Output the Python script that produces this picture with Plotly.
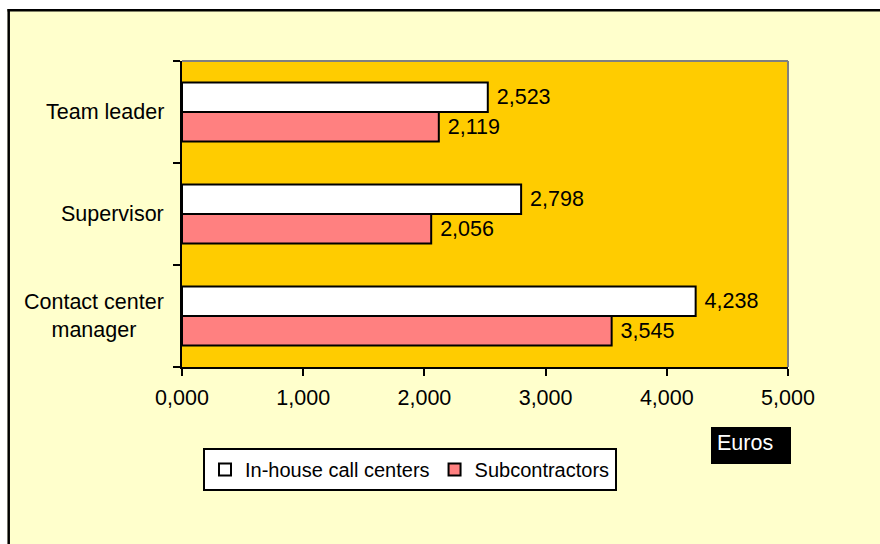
import plotly.graph_objects as go

# Monthly salary by position, in euros
positions = ["Contact center manager", "Supervisor", "Team leader"]
position_labels = ["Contact center<br>manager", "Supervisor", "Team leader"]
in_house = [4238, 2798, 2523]
subcontractors = [3545, 2056, 2119]
x_tick_values = [0, 1000, 2000, 3000, 4000, 5000]
x_tick_labels = ["0,000", "1,000", "2,000", "3,000", "4,000", "5,000"]

W, H = 880, 544
L, R, T, B = 182, 92, 61, 177
PW, PH = W - L - R, H - T - B
FONT = "Liberation Sans, Arial, sans-serif"
FS = 21.5


def px_x(px):
    return (px - L) / PW


def px_y(py):
    return (H - B - py) / PH


fig = go.Figure()
# Subcontractors first so that it sits below the in-house bar in each group
fig.add_trace(go.Bar(
    y=positions, x=subcontractors, orientation="h", name="Subcontractors",
    marker=dict(color="#FF8080", line=dict(color="black", width=2)),
    texttemplate="\u00a0%{x:,}", textposition="outside",
    textfont=dict(color="black", size=FS, family=FONT),
    constraintext="none", cliponaxis=False,
))
fig.add_trace(go.Bar(
    y=positions, x=in_house, orientation="h", name="In-house call centers",
    marker=dict(color="white", line=dict(color="black", width=2)),
    texttemplate="\u00a0%{x:,}", textposition="outside",
    textfont=dict(color="black", size=FS, family=FONT),
    constraintext="none", cliponaxis=False,
))

shapes = [
    # white margin outside the frame
    dict(type="rect", xref="paper", yref="paper", layer="below",
         x0=px_x(-5), x1=px_x(W + 5), y0=px_y(9), y1=px_y(-5),
         fillcolor="white", line=dict(width=0)),
    dict(type="rect", xref="paper", yref="paper", layer="below",
         x0=px_x(-5), x1=px_x(7.5), y0=px_y(H + 5), y1=px_y(-5),
         fillcolor="white", line=dict(width=0)),
    # frame lines
    dict(type="line", xref="paper", yref="paper",
         x0=px_x(7.5), x1=px_x(W + 5), y0=px_y(10.2), y1=px_y(10.2),
         line=dict(color="black", width=2.5)),
    dict(type="line", xref="paper", yref="paper",
         x0=px_x(8.7), x1=px_x(8.7), y0=px_y(9), y1=px_y(H + 5),
         line=dict(color="black", width=2.5)),
    # grey top and right edges of the plot area
    dict(type="line", xref="paper", yref="paper",
         x0=0, x1=1, y0=1, y1=1, line=dict(color="#808080", width=2)),
    dict(type="line", xref="paper", yref="paper",
         x0=1, x1=1, y0=0, y1=1, line=dict(color="#808080", width=2)),
    # unit box
    dict(type="rect", xref="paper", yref="paper",
         x0=px_x(711), x1=px_x(791), y0=px_y(464), y1=px_y(427),
         fillcolor="black", line=dict(width=0)),
]

annotations = [
    dict(text=lab, x=px_x(166), y=cat, xref="paper", yref="y",
         xanchor="right", yanchor="middle", align="center", showarrow=False,
         font=dict(size=FS, color="black", family=FONT))
    for cat, lab in zip(positions, position_labels)
]
annotations.append(dict(
    text="Euros", x=px_x(715), y=px_y(443), xref="paper", yref="paper",
    xanchor="left", yanchor="middle", showarrow=False,
    font=dict(size=FS, color="white", family=FONT)))

fig.update_layout(
    width=W, height=H,
    margin=dict(l=L, r=R, t=T, b=B, autoexpand=False),
    paper_bgcolor="#FFFFCC", plot_bgcolor="#FFCC00",
    font=dict(family=FONT, size=FS, color="black"),
    barmode="group", bargap=0.42, bargroupgap=0,
    showlegend=True,
    legend=dict(
        orientation="h", traceorder="reversed",
        x=px_x(203), y=px_y(448), xanchor="left", yanchor="top",
        bgcolor="white", bordercolor="black", borderwidth=2,
        font=dict(size=20, color="black", family=FONT),
        itemwidth=30, tracegroupgap=0,
    ),
    xaxis=dict(
        range=[0, 5000], tickvals=x_tick_values, ticktext=x_tick_labels,
        showgrid=False, zeroline=False, showline=True, linecolor="black",
        linewidth=2, ticks="outside", ticklen=7, tickwidth=2, tickcolor="black",
        ticklabelstandoff=3,
        tickfont=dict(size=FS, color="black", family=FONT), fixedrange=True,
    ),
    yaxis=dict(
        categoryorder="array", categoryarray=positions, type="category",
        showgrid=False, zeroline=False, showline=True, linecolor="black",
        linewidth=2, ticks="outside", ticklen=7, tickwidth=2, tickcolor="black",
        tickson="boundaries", showticklabels=False, fixedrange=True,
    ),
    shapes=shapes,
    annotations=annotations,
)

fig.write_html("out.html")
